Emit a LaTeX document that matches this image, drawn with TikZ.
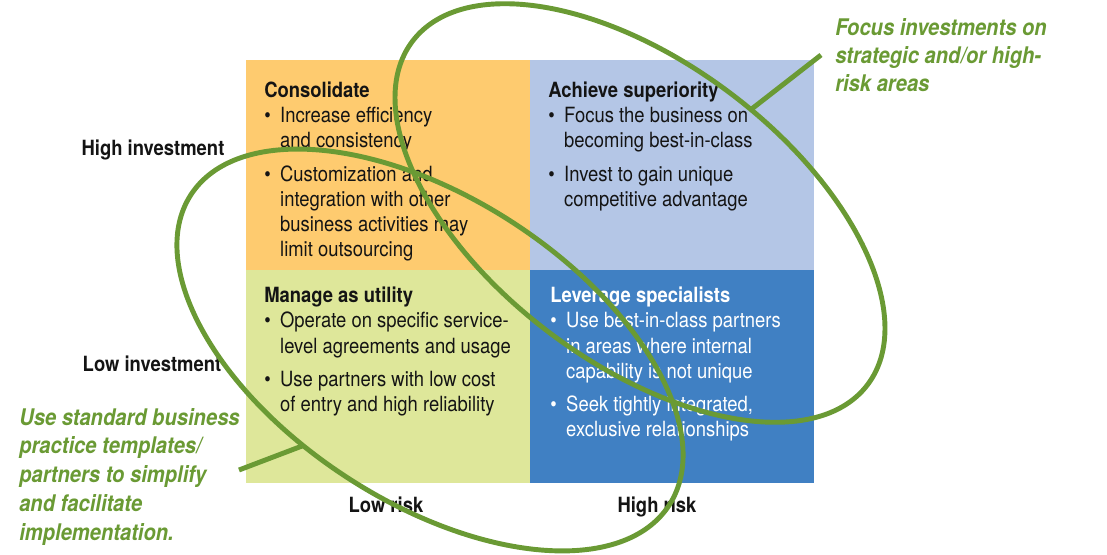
\documentclass[tikz,border=0pt]{standalone}
\usepackage{fontspec}
\setmainfont{TeX Gyre Heros}[FakeStretch=0.88]
\usepackage{tikz}
\usetikzlibrary{shapes.geometric, positioning}

\definecolor{consOrange}{RGB}{254,203,111}
\definecolor{supBlue}{RGB}{180,198,230}
\definecolor{utilGreen}{RGB}{222,231,154}
\definecolor{specBlue}{RGB}{64,128,195}
\definecolor{loopGreen}{RGB}{106,154,52}
\definecolor{inkDark}{RGB}{20,20,20}

\newcommand{\bul}{\textbullet\hspace{6.7pt}}
\newcommand{\ind}{\hphantom{\bul}}

\begin{document}
\begin{tikzpicture}[
    x=0.025cm, y=-0.025cm,
    quad/.style={rectangle, inner sep=0pt, outer sep=0pt, minimum width=7.1cm, minimum height=5.25cm},
    body/.style={anchor=north west, inner sep=0pt, align=left, text=inkDark, font=\fontsize{14.9}{17.8}\selectfont},
    axis/.style={anchor=base, inner sep=0pt, text=inkDark, font=\fontsize{14.9}{17.8}\selectfont\bfseries},
    note/.style={anchor=north west, inner sep=0pt, align=left, text=loopGreen, font=\fontsize{16.3}{20}\selectfont\bfseries\itshape},
    loop/.style={ellipse, draw=loopGreen, line width=3.5pt, inner sep=0pt, outer sep=0pt},
    leader/.style={draw=loopGreen, line width=3.5pt}
]
    \useasboundingbox (0,0) rectangle (1107,554);

    % quadrants
    \node[quad, fill=consOrange, anchor=north west] (consolidate) at (246,60) {};
    \node[quad, fill=supBlue, right=0pt of consolidate] (superiority) {};
    \node[quad, fill=utilGreen, minimum height=5.325cm, below=0pt of consolidate] (utility) {};
    \node[quad, fill=specBlue, minimum height=5.325cm, right=0pt of utility] (specialists) {};

    % quadrant texts
    \node[body] (cons_text) at ([shift={(18,22)}]consolidate.north west)
        {\textbf{Consolidate}\\
         \bul Increase efficiency\\
         \ind and consistency\\[5.7pt]
         \bul Customization and\\
         \ind integration with other\\
         \ind business activities may\\
         \ind limit outsourcing};
    \node[body] (sup_text) at ([shift={(18,22)}]superiority.north west)
        {\textbf{Achieve superiority}\\
         \bul Focus the business on\\
         \ind becoming best-in-class\\[5.7pt]
         \bul Invest to gain unique\\
         \ind competitive advantage};
    \node[body] (util_text) at ([shift={(18,17)}]utility.north west)
        {\textbf{Manage as utility}\\
         \bul Operate on specific service-\\
         \ind level agreements and usage\\[5.7pt]
         \bul Use partners with low cost\\
         \ind of entry and high reliability};
    \node[body, text=white] (spec_text) at ([shift={(20,17)}]specialists.north west)
        {\textbf{Leverage specialists}\\
         \bul Use best-in-class partners\\
         \ind in areas where internal\\
         \ind capability is not unique\\[5.7pt]
         \bul Seek tightly integrated,\\
         \ind exclusive relationships};

    % axis labels
    \node[axis] (high_inv) at (153,155) {High investment};
    \node[axis] (low_inv) at (152,371) {Low investment};
    \node[axis] (low_risk) at (386,512) {Low risk};
    \node[axis] (high_risk) at (657,512) {High risk};

    % notes
    \node[note] (focus_note) at (835,18)
        {Focus investments on\\strategic and/or high-\\risk areas};
    \node[note, font=\fontsize{16.3}{20.4}\selectfont\bfseries\itshape] (standard_note) at (19,408)
        {Use standard business\\practice templates/\\partners to simplify\\and facilitate\\implementation.};

    % loops
    \node[loop, minimum width=14.25cm, minimum height=7.5cm, rotate=-37] (strategic_loop) at (640,213) {};
    \node[loop, minimum width=14.25cm, minimum height=7.6cm, rotate=-33] (standard_loop) at (430,350) {};

    % leaders
    \coordinate (focus_tip) at (821,55);
    \coordinate (standard_tip) at (239,470);
    \draw[leader] (focus_tip) -- (strategic_loop.80);
    \draw[leader] (standard_tip) -- (standard_loop.250);
\end{tikzpicture}
\end{document}
